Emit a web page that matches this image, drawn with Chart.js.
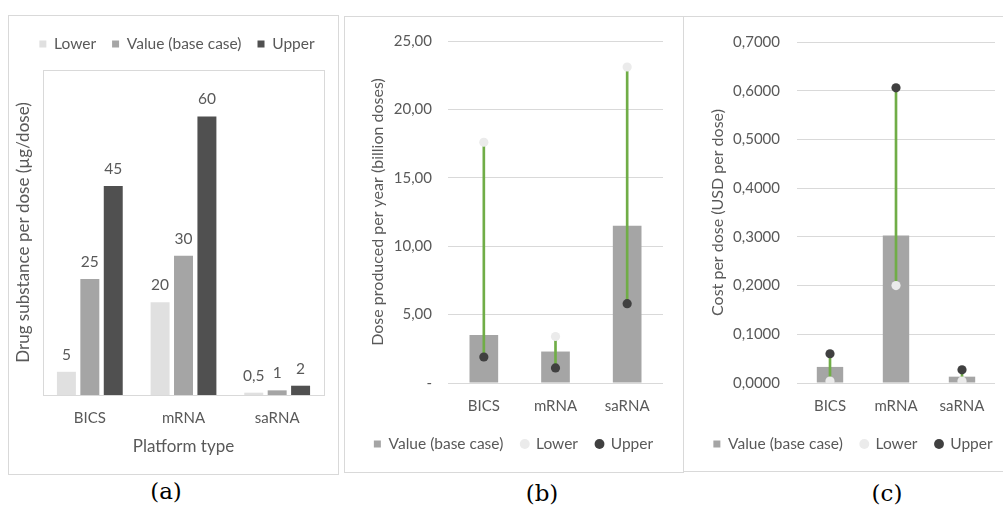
<!DOCTYPE html>
<html><head><meta charset="utf-8">
<script src="https://cdn.jsdelivr.net/npm/chart.js@4.4.1/dist/chart.umd.min.js"></script>
<style>
html,body{margin:0;padding:0;background:#fff;width:1003px;height:508px;overflow:hidden;position:relative;font-family:Lato,sans-serif}
.panel{position:absolute;border:1px solid #d9d9d9;box-sizing:border-box}
canvas{position:absolute}
.lab{position:absolute;font-family:"DejaVu Serif",serif;font-size:23px;color:#000;transform:translate(-50%,-50%);white-space:nowrap}
</style></head><body>
<div class="panel" style="left:8px;top:15px;width:331px;height:460px"></div>
<div class="panel" style="left:344px;top:16px;width:340px;height:457px"></div>
<div class="panel" style="left:683px;top:16px;width:341px;height:456px"></div>
<canvas id="cA" width="330" height="459" style="left:8px;top:15px"></canvas>
<canvas id="cB" width="339" height="456" style="left:344px;top:16px"></canvas>
<canvas id="cC" width="340" height="455" style="left:683px;top:16px"></canvas>
<div class="lab" style="left:166px;top:491px">(a)</div>
<div class="lab" style="left:542px;top:493px">(b)</div>
<div class="lab" style="left:887px;top:493px">(c)</div>
<script>
// ---- data ----
const platforms = ['BICS', 'mRNA', 'saRNA'];
// (a) drug substance per dose (µg/dose)
const drugLower = [5, 20, 0.5];
const drugBase  = [25, 30, 1];
const drugUpper = [45, 60, 2];
// (b) dose produced per year (billion doses)
const doseBase  = [3.5, 2.3, 11.5];
const doseLower = [17.6, 3.4, 23.1];
const doseUpper = [1.9, 1.1, 5.8];
const doseTicks = ['-', '5,00', '10,00', '15,00', '20,00', '25,00'];
// (c) cost per dose (USD per dose)
const costBase  = [0.033, 0.303, 0.013];
const costLower = [0.004, 0.2, 0.004];
const costUpper = [0.06, 0.606, 0.027];
const costTicks = ['0,0000', '0,1000', '0,2000', '0,3000', '0,4000', '0,5000', '0,6000', '0,7000'];

const TXT = '#595959';
const FONT = 'Lato';
const C_LOW = '#e0e0e0', C_BASE = '#a5a5a5', C_UP = '#505050';
const P_LOW = '#ebebeb', P_UP = '#404040', GREEN = '#70ad47', GRID = '#d9d9d9';

const fmt = v => String(v).replace('.', ',');

const frame = {
  id: 'frame',
  beforeDatasetsDraw(chart) {
    const {left, top, right, bottom} = chart.chartArea;
    const ctx = chart.ctx;
    ctx.save();
    ctx.strokeStyle = GRID; ctx.lineWidth = 1;
    ctx.strokeRect(Math.round(left) + 0.5, Math.round(top) + 0.5, Math.round(right - left), Math.round(bottom - top));
    ctx.restore();
  }
};
const barLabels = {
  id: 'barLabels',
  afterDatasetsDraw(chart) {
    const ctx = chart.ctx;
    ctx.save();
    ctx.font = '15.5px ' + FONT; ctx.fillStyle = TXT;
    ctx.textAlign = 'center'; ctx.textBaseline = 'middle';
    chart.data.datasets.forEach((ds, di) => {
      chart.getDatasetMeta(di).data.forEach((el, i) => {
        ctx.fillText(fmt(ds.data[i]), el.x, el.y - 17);
      });
    });
    ctx.restore();
  }
};
// nudge the legend of panel (a) to the right, as in the original layout
const legendShift = {
  id: 'legendShift',
  afterLayout(chart) {
    if (chart.legend) { chart.legend.left += 9; chart.legend.right += 9; }
  }
};

// ---- chart (a) ----
new Chart(document.getElementById('cA'), {
  type: 'bar',
  data: {
    labels: platforms,
    datasets: [
      {label: 'Lower', data: drugLower, backgroundColor: C_LOW},
      {label: 'Value (base case)', data: drugBase, backgroundColor: C_BASE},
      {label: 'Upper', data: drugUpper, backgroundColor: C_UP}
    ]
  },
  options: {
    responsive: false, animation: false,
    categoryPercentage: 0.75, barPercentage: 0.81,
    layout: {padding: {left: 4, right: 14, top: 5.25, bottom: 0}},
    plugins: {
      tooltip: {enabled: false},
      legend: {
        position: 'top',
        labels: {boxWidth: 7, boxHeight: 7, padding: 16, color: TXT, font: {family: FONT, size: 15.5}}
      }
    },
    scales: {
      xTop: {
        type: 'category', position: 'top', display: true,
        grid: {display: false, drawTicks: false}, border: {display: false},
        ticks: {display: false},
        afterFit: s => { s.height = 8.25; }
      },
      x: {
        grid: {display: false, drawTicks: false}, border: {display: false},
        ticks: {color: TXT, font: {family: FONT, size: 15}, padding: 14},
        title: {display: true, text: 'Platform type', color: TXT, font: {family: FONT, size: 17}, padding: {top: 0, bottom: 16.8}},
        afterFit: s => { s.height = 79; }
      },
      y: {
        min: 0, max: 70,
        grid: {display: false, drawTicks: false}, border: {display: false},
        ticks: {display: false},
        title: {display: true, text: 'Drug substance per dose (µg/dose)', color: TXT, font: {family: FONT, size: 17}, padding: {top: 1.8, bottom: 0}},
        afterFit: s => { s.width = 31; }
      }
    }
  },
  plugins: [frame, barLabels, legendShift]
});

// ---- charts (b) and (c) ----
function rangeChart(id, base, lower, upper, ticks, yMax, yStep, yTitle, yWidth, titlePad, tickPad, rightGap, padB) {
  const bridge = lower.map((l, i) => [Math.min(l, upper[i]), Math.max(l, upper[i])]);
  const dotOpts = {type: 'line', showLine: false, pointRadius: 4.6, pointHoverRadius: 4.6, pointBorderWidth: 0, borderWidth: 0, legendStyle: 'circle', order: 0};
  new Chart(document.getElementById(id), {
    type: 'bar',
    data: {
      labels: platforms,
      datasets: [
        {label: 'Value (base case)', data: base, backgroundColor: C_BASE, categoryPercentage: 0.5, barPercentage: 0.8, legendStyle: 'rect', order: 2},
        Object.assign({label: 'Lower', data: lower, pointBackgroundColor: P_LOW, backgroundColor: P_LOW, borderColor: P_LOW}, dotOpts),
        Object.assign({label: 'Upper', data: upper, pointBackgroundColor: P_UP, backgroundColor: P_UP, borderColor: P_UP}, dotOpts),
        {label: 'range', data: bridge, backgroundColor: GREEN, grouped: false, maxBarThickness: 2, barPercentage: 1, categoryPercentage: 1, inLegend: false, order: 1}
      ]
    },
    options: {
      responsive: false, animation: false,
      layout: {padding: {left: 0, right: 0, top: 22, bottom: padB}},
      plugins: {
        tooltip: {enabled: false},
        legend: {
          position: 'bottom',
          labels: {
            usePointStyle: true, boxWidth: 7, boxHeight: 7, padding: 18, color: TXT, font: {family: FONT, size: 15.5},
            generateLabels(chart) {
              const items = Chart.defaults.plugins.legend.labels.generateLabels(chart);
              return items
                .filter(it => chart.data.datasets[it.datasetIndex].inLegend !== false)
                .map(it => {
                  const ds = chart.data.datasets[it.datasetIndex];
                  it.pointStyle = ds.legendStyle; it.lineWidth = 0; it.strokeStyle = it.fillStyle;
                  return it;
                })
                .sort((a, b) => a.datasetIndex - b.datasetIndex);
            }
          }
        }
      },
      scales: {
        x: {
          grid: {display: false, drawTicks: false}, border: {display: false},
          ticks: {color: TXT, font: {family: FONT, size: 15}, padding: 14},
          afterFit: s => { s.height = 35.25; }
        },
        y: {
          min: 0, max: yMax,
          grid: {color: GRID, drawTicks: false}, border: {display: false},
          ticks: {stepSize: yStep, color: TXT, font: {family: FONT, size: 15}, padding: tickPad, callback: (v, i) => ticks[i]},
          title: {display: true, text: yTitle, color: TXT, font: {family: FONT, size: 16}, padding: {top: titlePad, bottom: 0}},
          afterFit: s => { s.width = yWidth; }
        },
        yGap: {
          type: 'linear', position: 'right', display: true,
          grid: {display: false, drawTicks: false}, border: {display: false},
          ticks: {display: false},
          afterFit: s => { s.width = rightGap; }
        }
      }
    }
  });
}
rangeChart('cB', doseBase, doseLower, doseUpper, doseTicks, 25, 5, 'Dose produced per year (billion doses)', 104, 24.4, 16, 20, 10.25);
rangeChart('cC', costBase, costLower, costUpper, costTicks, 0.7, 0.1, 'Cost per dose (USD per dose)', 114, 25.4, 17, 28, 9.25);
</script>
</body></html>
